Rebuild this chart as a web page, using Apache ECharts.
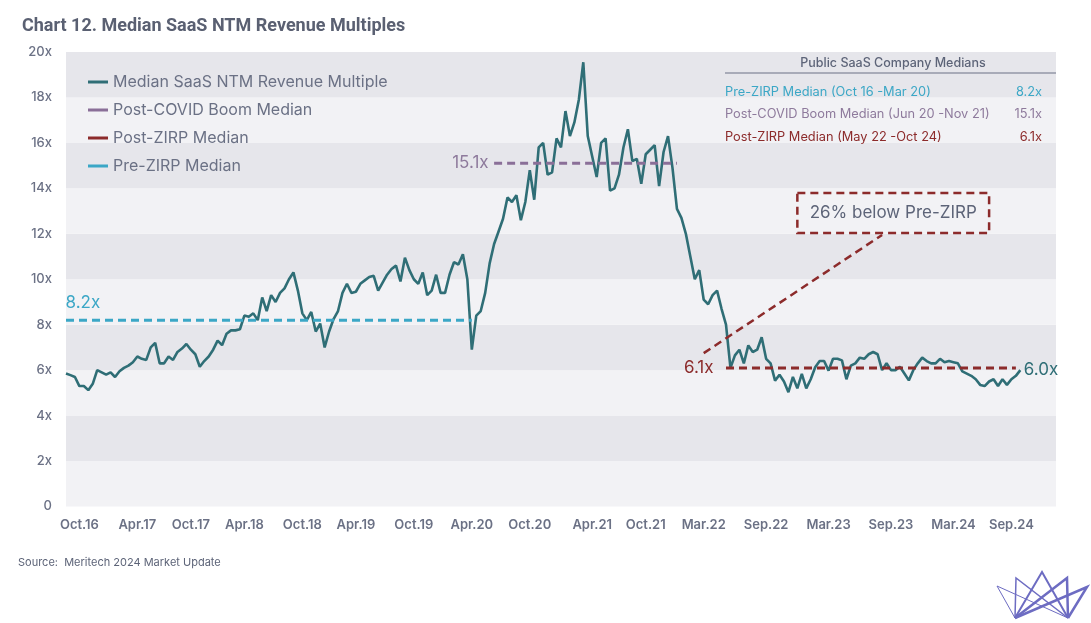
<!DOCTYPE html>
<html>
<head>
<meta charset="utf-8">
<script src="https://cdn.jsdelivr.net/npm/echarts@6/dist/echarts.min.js"></script>
<style>
html,body{margin:0;padding:0;background:#fff;}
#chart{width:1091px;height:623px;}
</style>
</head>
<body>
<div id="chart"></div>
<script>
// ---------- DATA ----------
const tickLabels = ['Oct.16','Apr.17','Oct.17','Apr.18','Oct.18','Apr.19','Oct.19','Apr.20','Oct.20','Apr.21','Oct.21','Mar.22','Sep.22','Mar.23','Sep.23','Mar.24','Sep.24'];
const tickIdx = [3,16,28,40,53,65,78,91,104,118,130,143,157,171,185,199,212];
const categoryCount = 223;

// Median SaaS NTM revenue multiple (biweekly samples)
const multOct16toMar18 = [5.85,5.78,5.7,5.3,5.3,5.12,5.4,6.0,5.9,5.8,5.9,5.7,5.95,6.1,6.2,6.35,6.6,6.5,6.45,7.0,7.2,6.3,6.3,6.6,6.45,6.8,6.95,7.15,6.9,6.7,6.15,6.4,6.6,6.9,7.3,7.1,7.6,7.75,7.75,7.8,8.4,8.35,8.5,8.2,9.2];
const multMar18toMay20 = [8.6,9.3,9.0,9.4,9.6,10.0,10.3,9.5,8.5,8.2,8.56,7.7,8.05,7.0,7.7,8.25,8.6,9.4,9.8,9.4,9.45,9.8,9.95,10.1,10.15,9.5,9.85,10.2,10.45,10.6,9.9,10.95,10.4,10.0,9.8,10.3,9.3,9.5,10.2,9.4,9.4,10.2,10.75,10.65,11.1,10.0,6.9,8.4];
const multMay20toSep21 = [8.6,9.4,10.7,11.55,12.1,12.66,13.6,13.4,13.7,12.6,13.4,14.8,13.5,15.8,16.0,14.6,14.7,16.2,15.8,17.4,16.3,16.9,17.9,19.55,16.3,15.4,14.5,16.0,16.2,13.9,14.0,14.6,15.8,16.6,15.2,15.3,14.2,15.5,15.7,15.9,14.1];
const multSep21toMay22 = [15.6,16.3,14.9,13.1,12.7,12.0,11.0,10.0,10.4,9.1,8.9,9.3,9.5,8.7,8.0,6.1];
const multMay22toOct24 = [6.65,6.9,6.3,7.09,6.8,6.9,7.45,6.5,6.3,5.54,5.8,5.5,5.03,5.7,5.2,5.84,5.2,5.6,6.13,6.4,6.4,5.98,6.5,6.5,6.43,5.6,6.2,6.3,6.55,6.5,6.7,6.8,6.7,6.0,6.3,6.0,6.0,6.15,5.85,5.55,6.0,6.3,6.55,6.4,6.3,6.3,6.5,6.35,6.4,6.35,6.3,5.95,5.85,5.75,5.6,5.35,5.3,5.5,5.6,5.3,5.6,5.35,5.6,5.75,6.0];

const medianNames = ['Pre-ZIRP Median','Post-COVID Boom Median','Post-ZIRP Median'];
const medianValues = [8.2, 15.1, 6.1];
const medianRanges = [[0,91],[96,137],[148,213]];
const medianPeriods = ['(Oct 16 -Mar 20)','(Jun 20 -Nov 21)','(May 22 -Oct 24)'];

// ---------- BUILD ----------
const mainValues = [].concat(multOct16toMar18, multMar18toMay20, multMay20toSep21, multSep21toMay22, multMay22toOct24);
const categories = [];
for (let i = 0; i < categoryCount; i++) categories.push('');
tickIdx.forEach((ix, k) => { categories[ix] = tickLabels[k]; });

function rangeSeries(k) {
  const arr = [];
  for (let i = 0; i < categoryCount; i++) {
    arr.push(i >= medianRanges[k][0] && i <= medianRanges[k][1] ? medianValues[k] : null);
  }
  return arr;
}

const C_MAIN = '#2f6e76', C_PRE = '#3ba7c6', C_COVID = '#8a6f98', C_ZIRP = '#8c2b2b';
const TXT = '#6b7185';
const FONT = 'Inter, Roboto, sans-serif';
const fmt = v => v.toFixed(1) + 'x';

const chart = echarts.init(document.getElementById('chart'), null, {renderer: 'canvas'});

const option = {
  animation: false,
  backgroundColor: '#ffffff',
  title: {
    text: 'Chart 12. Median SaaS NTM Revenue Multiples',
    left: 17, top: 12,
    textStyle: {fontFamily: 'Roboto, sans-serif', fontWeight: 'bold', fontSize: 18, color: '#5a6072'}
  },
  legend: {
    orient: 'vertical', left: 83, top: 69, itemGap: 12,
    icon: 'rect', itemWidth: 20, itemHeight: 3,
    data: ['Median SaaS NTM Revenue Multiple','Post-COVID Boom Median','Post-ZIRP Median','Pre-ZIRP Median'],
    textStyle: {fontFamily: FONT, fontSize: 16, color: TXT},
    selectedMode: false
  },
  grid: {left: 66, right: 35, top: 52, bottom: 116.5, containLabel: false},
  xAxis: {
    type: 'category', data: categories, boundaryGap: false,
    axisLine: {show: false}, axisTick: {show: false},
    axisLabel: {interval: 0, color: TXT, fontFamily: FONT, fontWeight: 600, fontSize: 13, margin: 12},
    splitLine: {show: false}
  },
  yAxis: {
    type: 'value', min: 0, max: 20, interval: 2,
    axisLine: {show: false}, axisTick: {show: false},
    splitLine: {show: false},
    splitArea: {show: true, areaStyle: {color: ['#f2f2f5', '#e6e6eb']}},
    axisLabel: {color: TXT, fontFamily: FONT, fontWeight: 500, fontSize: 13, margin: 14,
      formatter: v => v === 0 ? '0' : v + 'x'}
  },
  series: [
    {
      name: 'Median SaaS NTM Revenue Multiple', type: 'line', data: mainValues,
      symbol: 'none', z: 3,
      lineStyle: {color: C_MAIN, width: 2.6}, itemStyle: {color: C_MAIN},
      markPoint: {
        symbol: 'circle', symbolSize: 1, itemStyle: {color: 'rgba(0,0,0,0)'},
        data: [{coord: [mainValues.length - 1, mainValues[mainValues.length - 1]],
          label: {show: true, position: 'right', distance: 3, formatter: fmt(mainValues[mainValues.length - 1]),
            color: C_MAIN, fontFamily: FONT, fontSize: 17}}]
      }
    },
    {
      name: 'Post-COVID Boom Median', type: 'line', data: rangeSeries(1),
      symbol: 'none', z: 4,
      lineStyle: {color: C_COVID, width: 3, type: [8, 5]}, itemStyle: {color: C_COVID},
      markPoint: {
        symbol: 'circle', symbolSize: 1, itemStyle: {color: 'rgba(0,0,0,0)'},
        data: [{coord: [medianRanges[1][0], medianValues[1]],
          label: {show: true, position: 'left', distance: 5, formatter: fmt(medianValues[1]),
            color: '#8e7a9c', fontFamily: FONT, fontSize: 17}}]
      }
    },
    {
      name: 'Post-ZIRP Median', type: 'line', data: rangeSeries(2),
      symbol: 'none', z: 4,
      lineStyle: {color: C_ZIRP, width: 3, type: [8, 5]}, itemStyle: {color: C_ZIRP},
      markPoint: {
        symbol: 'circle', symbolSize: 1, itemStyle: {color: 'rgba(0,0,0,0)'},
        data: [{coord: [medianRanges[2][0], medianValues[2]],
          label: {show: true, position: 'left', distance: 12, formatter: fmt(medianValues[2]),
            color: C_ZIRP, fontFamily: FONT, fontSize: 17}}]
      },
      markLine: {
        silent: true, symbol: ['none', 'none'],
        lineStyle: {color: C_ZIRP, width: 2.5, type: [8, 5]},
        label: {show: false},
        data: [[{coord: [143, 6.75]}, {coord: [183, 11.95]}]]
      },
      markArea: {
        silent: true,
        itemStyle: {color: 'rgba(0,0,0,0)', borderColor: C_ZIRP, borderWidth: 2.5, borderType: [8, 5]},
        label: {show: true, position: 'inside', color: '#5d6478', fontFamily: FONT, fontSize: 17},
        data: [[{coord: [164, 13.8], name: Math.round((1 - medianValues[2] / medianValues[0]) * 100) + '% below Pre-ZIRP'}, {coord: [207, 12.03]}]]
      }
    },
    {
      name: 'Pre-ZIRP Median', type: 'line', data: rangeSeries(0),
      symbol: 'none', z: 4,
      lineStyle: {color: C_PRE, width: 3, type: [8, 5]}, itemStyle: {color: C_PRE},
      markPoint: {
        symbol: 'circle', symbolSize: 1, itemStyle: {color: 'rgba(0,0,0,0)'},
        data: [{coord: [medianRanges[0][0], medianValues[0]],
          label: {show: true, position: [0, -25], formatter: fmt(medianValues[0]),
            color: C_PRE, fontFamily: FONT, fontSize: 17}}]
      }
    }
  ],
  graphic: []
};

// Table of medians (top right) and footer
const tableColors = [C_PRE, '#8e7a9c', C_ZIRP];
const tableRowsY = [92, 114, 137];
const graphics = [
  {type: 'text', z: 100, style: {text: 'Public SaaS Company Medians', x: 893, y: 63, textAlign: 'center', textVerticalAlign: 'middle',
    font: '500 12.5px Inter, Roboto, sans-serif', fill: '#5d6478'}},
  {type: 'line', z: 100, shape: {x1: 725, y1: 73, x2: 1056, y2: 73}, style: {stroke: '#6b7185', lineWidth: 1}},
  {type: 'text', z: 100, style: {text: 'Source:  Meritech 2024 Market Update', x: 18, y: 563, textVerticalAlign: 'middle',
    font: '11px Inter, Roboto, sans-serif', fill: '#5d6478'}}
];
[0, 1, 2].forEach((k, r) => {
  graphics.push({type: 'text', z: 100, style: {text: medianNames[k] + ' ' + medianPeriods[k], x: 725, y: tableRowsY[r], textVerticalAlign: 'middle',
    font: '12.8px Inter, Roboto, sans-serif', fill: tableColors[k]}});
  graphics.push({type: 'text', z: 100, style: {text: fmt(medianValues[k]), x: 1042, y: tableRowsY[r], textAlign: 'right', textVerticalAlign: 'middle',
    font: '12.8px Inter, Roboto, sans-serif', fill: tableColors[k]}});
});
// Logo (decorative)
const A = [1015, 618], B = [1068, 618];
const apexes = [[997, 586], [1016, 578], [1042, 572], [1067, 578], [1087, 587]];
const widths = [1, 1.5, 2, 2.5, 2.5];
apexes.forEach((p, k) => {
  graphics.push({type: 'polyline', z: 100, shape: {points: [A, p, B]}, style: {stroke: '#6d6cc2', lineWidth: widths[k], fill: null}});
});
option.graphic = graphics;

chart.setOption(option);
</script>
</body>
</html>
